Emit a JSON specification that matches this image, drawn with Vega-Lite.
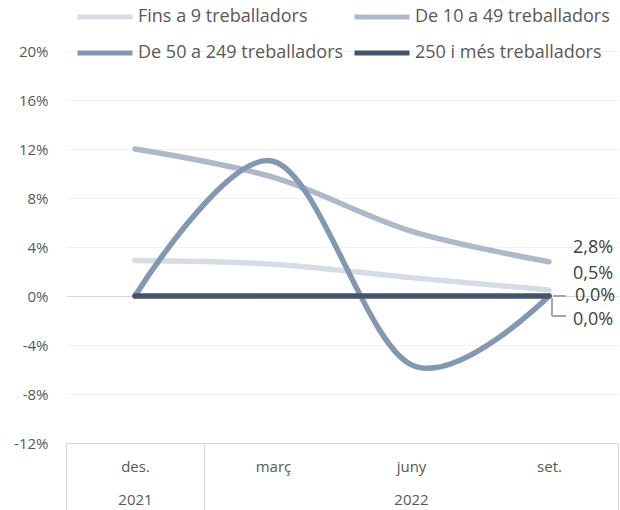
{
  "$schema": "https://vega.github.io/schema/vega-lite/v6.json",
  "width": 552,
  "height": 392,
  "autosize": {"type": "none"},
  "padding": {"left": 66, "top": 51, "right": 2, "bottom": 67},
  "config": {
    "locale": {"number": {"decimal": ",", "thousands": ".", "grouping": [3], "currency": ["", " €"], "minus": "-"}},
    "view": {"stroke": null},
    "font": "Open Sans"
  },
  "data": {
    "values": [
      {"mes": "des.", "i": 0, "serie": "Fins a 9 treballadors", "v": 0.029},
      {"mes": "març", "i": 1, "serie": "Fins a 9 treballadors", "v": 0.026},
      {"mes": "juny", "i": 2, "serie": "Fins a 9 treballadors", "v": 0.015},
      {"mes": "set.", "i": 3, "serie": "Fins a 9 treballadors", "v": 0.005},
      {"mes": "des.", "i": 0, "serie": "De 10 a 49 treballadors", "v": 0.120},
      {"mes": "març", "i": 1, "serie": "De 10 a 49 treballadors", "v": 0.097},
      {"mes": "juny", "i": 2, "serie": "De 10 a 49 treballadors", "v": 0.053},
      {"mes": "set.", "i": 3, "serie": "De 10 a 49 treballadors", "v": 0.028},
      {"mes": "des.", "i": 0, "serie": "De 50 a 249 treballadors", "v": 0.0},
      {"mes": "març", "i": 1, "serie": "De 50 a 249 treballadors", "v": 0.110},
      {"mes": "juny", "i": 2, "serie": "De 50 a 249 treballadors", "v": -0.056},
      {"mes": "set.", "i": 3, "serie": "De 50 a 249 treballadors", "v": 0.0},
      {"mes": "des.", "i": 0, "serie": "250 i més treballadors", "v": 0.0},
      {"mes": "març", "i": 1, "serie": "250 i més treballadors", "v": 0.0},
      {"mes": "juny", "i": 2, "serie": "250 i més treballadors", "v": 0.0},
      {"mes": "set.", "i": 3, "serie": "250 i més treballadors", "v": 0.0}
    ]
  },
  "layer": [
    {
      "mark": {"type": "line", "interpolate": "cardinal", "strokeWidth": 5.5, "strokeCap": "round"},
      "encoding": {
        "x": {
          "field": "i", "type": "quantitative",
          "scale": {"domain": [-0.5, 3.5], "nice": false, "zero": false},
          "axis": {
            "values": [-0.5, 0, 0.5, 1, 2, 3, 3.5],
            "labelExpr": "datum.value === 0 ? ['des.', '2021'] : datum.value === 1 ? ['març', ''] : datum.value === 2 ? ['juny', '2022'] : datum.value === 3 ? ['set.', ''] : ''",
            "title": null,
            "grid": false,
            "domainColor": "#d9d9d9",
            "tickColor": "#d9d9d9",
            "tickSize": 67,
            "tickOpacity": {"condition": {"test": "datum.value % 1 !== 0", "value": 1}, "value": 0},
            "labelFontSize": 15,
            "labelColor": "#595959",
            "labelLineHeight": 33,
            "labelPadding": -51,
            "labelOverlap": false,
            "labelBound": false,
            "labelFlush": false
          }
        },
        "y": {
          "field": "v", "type": "quantitative",
          "scale": {"domain": [-0.12, 0.2], "nice": false, "zero": false},
          "axis": {
            "values": [-0.12, -0.08, -0.04, 0, 0.04, 0.08, 0.12, 0.16, 0.2],
            "format": ".0%",
            "title": null,
            "domain": false,
            "ticks": false,
            "grid": true,
            "gridColor": {"condition": {"test": "datum.value === 0", "value": "#d9d9d9"}, "value": "#f0f0f0"},
            "labelFontSize": 15,
            "labelColor": "#595959",
            "labelPadding": 18
          }
        },
        "color": {
          "field": "serie", "type": "nominal",
          "scale": {
            "domain": ["Fins a 9 treballadors", "De 10 a 49 treballadors", "De 50 a 249 treballadors", "250 i més treballadors"],
            "range": ["#d6dce5", "#adb9ca", "#8497b0", "#44546a"]
          },
          "legend": {
            "orient": "none", "legendX": 9, "legendY": -44,
            "direction": "horizontal",
            "columns": 2, "title": null,
            "symbolType": "stroke", "symbolSize": 3025, "symbolStrokeWidth": 5,
            "labelFontSize": 18, "labelColor": "#595959", "labelOffset": 3, "labelLimit": 400,
            "columnPadding": 8, "rowPadding": 16, "clipHeight": 20
          }
        }
      }
    },
    {
      "transform": [{"filter": "datum.i === 3 && datum.serie === 'De 10 a 49 treballadors'"}],
      "mark": {"type": "text", "align": "left", "baseline": "middle", "dx": 24, "dy": -14, "fontSize": 18, "color": "#404040"},
      "encoding": {"x": {"field": "i", "type": "quantitative"}, "y": {"field": "v", "type": "quantitative"}, "text": {"field": "v", "type": "quantitative", "format": ".1%"}}
    },
    {
      "transform": [{"filter": "datum.i === 3 && datum.serie === 'Fins a 9 treballadors'"}],
      "mark": {"type": "text", "align": "left", "baseline": "middle", "dx": 24, "dy": -16, "fontSize": 18, "color": "#404040"},
      "encoding": {"x": {"field": "i", "type": "quantitative"}, "y": {"field": "v", "type": "quantitative"}, "text": {"field": "v", "type": "quantitative", "format": ".1%"}}
    },
    {
      "transform": [{"filter": "datum.i === 3 && datum.serie === '250 i més treballadors'"}],
      "mark": {"type": "text", "align": "left", "baseline": "middle", "dx": 26, "dy": 0, "fontSize": 18, "color": "#404040"},
      "encoding": {"x": {"field": "i", "type": "quantitative"}, "y": {"field": "v", "type": "quantitative"}, "text": {"field": "v", "type": "quantitative", "format": ".1%"}}
    },
    {
      "transform": [{"filter": "datum.i === 3 && datum.serie === 'De 50 a 249 treballadors'"}],
      "mark": {"type": "text", "align": "left", "baseline": "middle", "dx": 24, "dy": 24, "fontSize": 18, "color": "#404040"},
      "encoding": {"x": {"field": "i", "type": "quantitative"}, "y": {"field": "v", "type": "quantitative"}, "text": {"field": "v", "type": "quantitative", "format": ".1%"}}
    },
    {
      "mark": {"type": "rule", "color": "#a6a6a6", "strokeWidth": 1.5, "xOffset": 4},
      "encoding": {"x": {"datum": 3}, "x2": {"datum": 3.12}, "y": {"datum": 0}}
    },
    {
      "mark": {"type": "rule", "color": "#a6a6a6", "strokeWidth": 1.5, "xOffset": 3, "yOffset": 2},
      "encoding": {"x": {"datum": 3}, "y": {"datum": 0}, "y2": {"datum": -0.0163}}
    },
    {
      "mark": {"type": "rule", "color": "#a6a6a6", "strokeWidth": 1.5, "xOffset": 3},
      "encoding": {"x": {"datum": 3}, "x2": {"datum": 3.12}, "y": {"datum": -0.0163}}
    }
  ]
}
